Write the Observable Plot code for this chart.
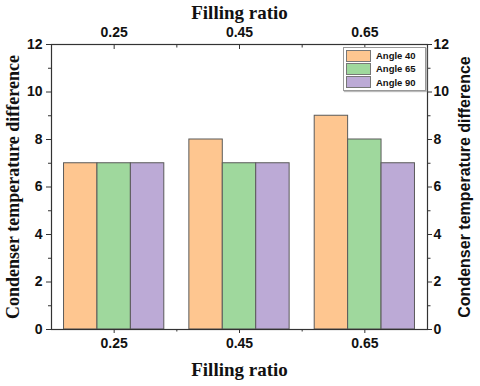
<!DOCTYPE html>
<html><head><meta charset="utf-8">
<script src="https://cdn.jsdelivr.net/npm/d3@7"></script>
<script src="https://cdn.jsdelivr.net/npm/@observablehq/plot@0.6"></script>
<style>
body{margin:0;background:#fff}
#wrap{position:relative;width:480px;height:386px;overflow:hidden}
#legend{position:absolute;left:343px;top:47px;width:81px;height:42px;border:1px solid #999;box-shadow:1px 1px 1px #bbb;background:#fff;font-family:"Liberation Sans",Arial,sans-serif;font-weight:bold;font-size:9.5px;color:#111}
#legend .row{position:absolute;left:2px;height:11px;display:flex;align-items:center}
#legend .sw{width:23px;height:10px;border:1px solid #777;margin-right:5px}
</style></head><body><div id="wrap"></div>
<script>
// Data
const ratios = [0.25, 0.45, 0.65];
const ratioLabels = ["0.25", "0.45", "0.65"];
const series = ["Angle 40", "Angle 65", "Angle 90"];
const angle40 = [7, 8, 9];
const angle65 = [7, 7, 8];
const angle90 = [7, 7, 7];
const yMajor = [0, 2, 4, 6, 8, 10, 12];
const yMinor = [1, 3, 5, 7, 9, 11];
const xMinor = [0.35, 0.55];
const colors = ["#fec690", "#9fd89d", "#bcaad6"];

const values = [angle40, angle65, angle90];
const rows = [];
ratios.forEach((r, i) => series.forEach((s, j) => rows.push({ratio: r, series: s, idx: j, value: values[j][i]})));

const step = 0.2;
const barW = step * 0.8 / series.length;
const fmt = d => ratioLabels[ratios.indexOf(d)] ?? "";
const sans = "Liberation Sans, Arial, sans-serif";
const serif = "Liberation Serif, Times New Roman, serif";

const chart = Plot.plot({
  width: 480, height: 386,
  marginTop: 44, marginBottom: 57, marginLeft: 51, marginRight: 53,
  style: {fontFamily: sans, fontWeight: "bold", fontSize: "14px", color: "#111", background: "#fff"},
  x: {type: "linear", domain: [0.15, 0.75]},
  y: {domain: [0, 12]},
  color: {domain: series, range: colors},
  marks: [
    Plot.rectY(rows, {
      x1: d => d.ratio + (d.idx - series.length / 2) * barW,
      x2: d => d.ratio + (d.idx - series.length / 2 + 1) * barW,
      y: "value", fill: "series", stroke: "#5a5a5a", strokeWidth: 1
    }),
    Plot.frame({stroke: "#333", strokeWidth: 1.2}),
    // bottom x axis
    Plot.axisX({anchor: "bottom", ticks: ratios, tickFormat: fmt, tickSize: 4, tickPadding: 5, label: null, stroke: "#333"}),
    Plot.axisX({anchor: "bottom", ticks: xMinor, tickFormat: () => "", tickSize: 2.5, label: null, stroke: "#333"}),
    // top x axis
    Plot.axisX({anchor: "top", ticks: ratios, tickFormat: fmt, tickSize: 0, tickPadding: 8, label: null}),
    Plot.axisX({anchor: "top", ticks: ratios, tickFormat: () => "", tickSize: -4, label: null, stroke: "#333"}),
    Plot.axisX({anchor: "top", ticks: xMinor, tickFormat: () => "", tickSize: -2.5, label: null, stroke: "#333"}),
    // y axes
    Plot.axisY({anchor: "left", ticks: yMajor, tickSize: 5, tickPadding: 4, label: null, stroke: "#333"}),
    Plot.axisY({anchor: "left", ticks: yMinor, tickSize: 3, tickFormat: () => "", label: null, stroke: "#333"}),
    Plot.axisY({anchor: "right", ticks: yMajor, tickSize: 4, tickPadding: 2, label: null, stroke: "#333"}),
    Plot.axisY({anchor: "right", ticks: yMinor, tickSize: 2.5, tickFormat: () => "", label: null, stroke: "#333"}),
    // axis titles
    Plot.axisX({anchor: "top", ticks: [], label: "Filling ratio", labelArrow: "none", labelAnchor: "center", labelOffset: 39, fontFamily: serif, fontSize: 19}),
    Plot.axisX({anchor: "bottom", ticks: [], label: "Filling ratio", labelArrow: "none", labelAnchor: "center", labelOffset: 46, fontFamily: serif, fontSize: 19}),
    Plot.axisY({anchor: "left", ticks: [], label: "Condenser temperature difference", labelArrow: "none", labelAnchor: "center", labelOffset: 45, fontFamily: serif, fontSize: 18}),
    Plot.axisY({anchor: "right", ticks: [], label: "Condenser temperature difference", labelArrow: "none", labelAnchor: "center", labelOffset: 42, fontFamily: sans, fontSize: 16})
  ]
});
const wrap = document.getElementById("wrap");
wrap.appendChild(chart);

// legend
const leg = d3.select(wrap).append("div").attr("id", "legend");
series.forEach((s, j) => {
  const r = leg.append("div").attr("class", "row").style("top", (2 + j * 13.4) + "px");
  r.append("div").attr("class", "sw").style("background", colors[j]);
  r.append("span").text(s);
});
</script></body></html>
